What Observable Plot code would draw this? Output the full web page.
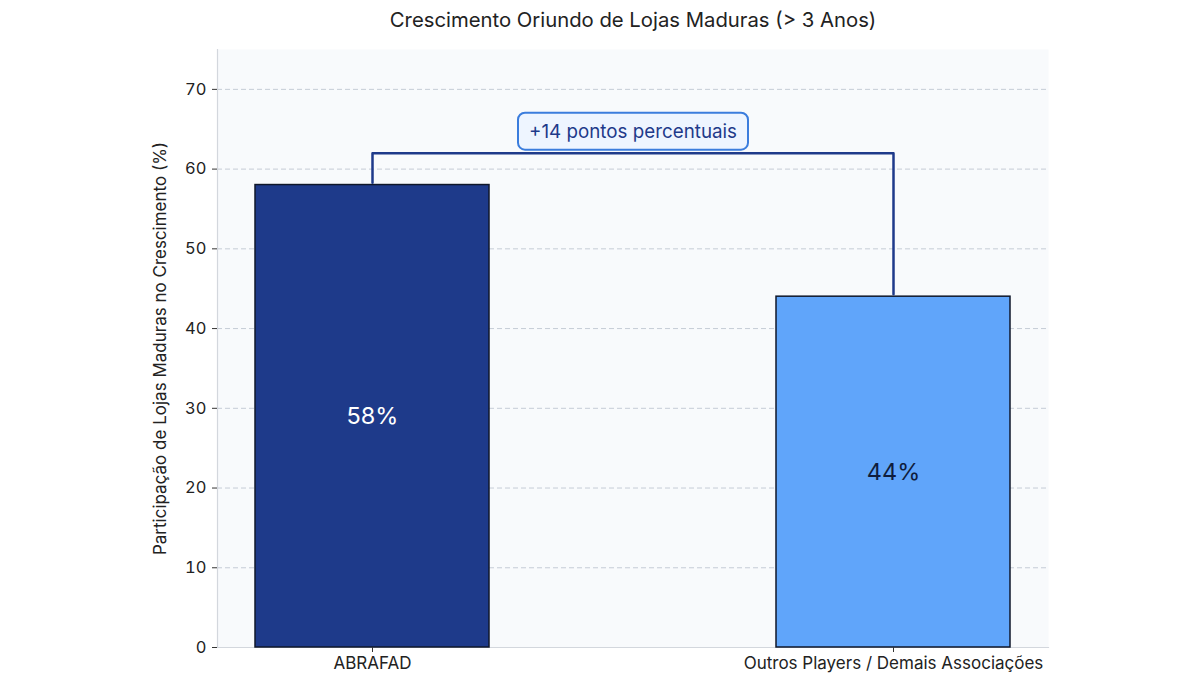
<!DOCTYPE html>
<html>
<head>
<meta charset="utf-8">
<script src="https://cdn.jsdelivr.net/npm/d3@7"></script>
<script src="https://cdn.jsdelivr.net/npm/@observablehq/plot@0.6"></script>
<style>
  html, body { margin: 0; padding: 0; background: #ffffff; }
  #chart { width: 1200px; height: 675px; }
  svg { font-family: "Inter", "Roboto", sans-serif; }
</style>
</head>
<body>
<div id="chart"></div>
<script>
const categories = ["ABRAFAD", "Outros Players / Demais Associações"];
const values = [58, 44];
const valueLabels = ["58%", "44%"];
const barColors = ["#1e3a8a", "#60a5fa"];
const labelColors = ["#ffffff", "#0f1d3d"];
const yTicks = [0, 10, 20, 30, 40, 50, 60, 70];
const gridTicks = [10, 20, 30, 40, 50, 60, 70];
const title = "Crescimento Oriundo de Lojas Maduras (> 3 Anos)";
const yLabel = "Participação de Lojas Maduras no Crescimento (%)";
const diffLabel = "+14 pontos percentuais";
const bracketLevel = 62;
const annotationLevel = 64.7;

const bars = categories.map((c, i) => ({cat: c, value: values[i], label: valueLabels[i], color: barColors[i], tcolor: labelColors[i]}));
const bracket = [
  {cat: categories[0], y: values[0] + 0.3},
  {cat: categories[0], y: bracketLevel},
  {cat: categories[1], y: bracketLevel},
  {cat: categories[1], y: values[1] + 0.3}
];

const chart = Plot.plot({
  width: 1200,
  height: 675,
  marginTop: 49,
  marginBottom: 28,
  marginLeft: 217,
  marginRight: 152,
  style: {fontFamily: "Inter, Roboto, sans-serif", background: "#ffffff"},
  x: {domain: categories, paddingInner: 0.55, paddingOuter: 0.071, label: null},
  y: {domain: [0, 75], label: null},
  marks: [
    Plot.frame({fill: "#f8fafc", stroke: null}),
    Plot.gridY(gridTicks, {stroke: "#c5ccd6", strokeOpacity: 1, strokeDasharray: "5,3", strokeWidth: 1}),
    Plot.frame({anchor: "left", stroke: "#d3d7dd", strokeWidth: 1.2}),
    Plot.frame({anchor: "bottom", stroke: "#d3d7dd", strokeWidth: 1.2}),
    Plot.barY(bars, {x: "cat", y: "value", fill: "color", stroke: "#0f172a", strokeWidth: 1.5}),
    Plot.text(bars, {x: "cat", y: d => d.value / 2, text: "label", fill: "tcolor", fontSize: 23.5}),
    Plot.line(bracket, {x: "cat", y: "y", stroke: "#1e3a8a", strokeWidth: 2.5, curve: "linear"}),
    Plot.text([diffLabel], {frameAnchor: "middle", y: () => annotationLevel, text: d => d, fill: "#1e3a8a", fontSize: 18.8}),
    Plot.axisY(yTicks, {tickSize: 5, tickPadding: 6, fontSize: 16.5, stroke: "#333", fill: "#222", label: null}),
    Plot.axisX({tickSize: 5, tickPadding: 4, fontSize: 17, fill: "#222", stroke: "#333", label: null}),
    Plot.text([yLabel], {frameAnchor: "left", textAnchor: "middle", rotate: -90, dx: -57, text: d => d, fontSize: 17, fill: "#222"}),
    Plot.text([title], {frameAnchor: "top", dy: -37, text: d => d, fontSize: 20.3, fill: "#222"})
  ]
});
document.getElementById("chart").appendChild(chart);

// Rounded background box behind the difference annotation
const svg = d3.select(chart);
svg.selectAll("text").filter(function() { return this.textContent === diffLabel; }).each(function() {
  const bb = this.getBBox();
  const g = this.parentNode;
  const padX = 11, padY = 7;
  const r = d3.select(g).insert("rect", () => this)
    .attr("x", bb.x - padX)
    .attr("y", bb.y - padY)
    .attr("width", bb.width + 2 * padX)
    .attr("height", bb.height + 2 * padY)
    .attr("rx", 7)
    .attr("fill", "#eef5ff")
    .attr("stroke", "#3b7ddd")
    .attr("stroke-width", 2);
  const t = this.getAttribute("transform");
  if (t) r.attr("transform", t);
});
</script>
</body>
</html>
